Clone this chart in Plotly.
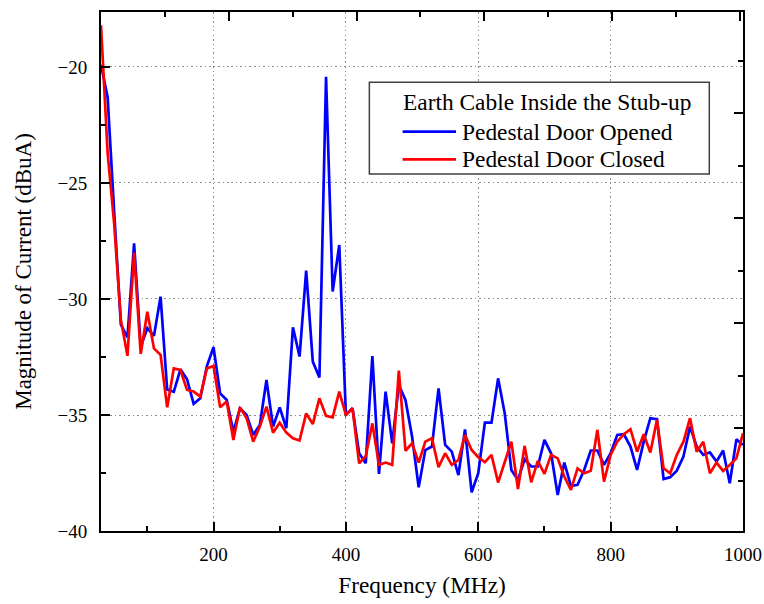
import plotly.graph_objects as go

# ---- data ----
freq_mhz = list(range(30, 1001, 10))

door_opened = [
    -19.9, -21.3, -26.3, -31.1, -31.65, -27.6, -32.05, -31.26, -31.59, -29.90,
    -33.90, -34.0, -33.03, -33.46, -34.52, -34.28, -32.89, -32.08, -34.07, -34.35,
    -35.72, -34.71, -35.0, -35.86, -35.43, -33.49, -35.5, -34.67, -35.57, -31.22,
    -32.48, -28.78, -32.7, -33.38, -20.42, -29.68, -27.67, -35.0, -34.71, -36.65,
    -37.08, -32.46, -37.54, -33.99, -36.22, -33.71, -34.35, -35.93, -38.12, -36.51,
    -36.36, -33.85, -36.29, -36.58, -37.59, -35.62, -38.33, -37.51, -35.33, -35.33,
    -33.42, -34.93, -37.37, -37.80, -36.91, -37.22, -37.22, -36.07, -36.65, -38.45,
    -37.05, -38.06, -38.01, -37.37, -36.53, -36.53, -37.15, -36.65, -35.86, -35.83,
    -36.36, -37.37, -36.15, -35.14, -35.18, -37.76, -37.68, -37.40, -36.79, -35.50,
    -36.36, -36.72, -36.61, -37.01, -36.53, -37.94, -36.05, -36.29,
]

door_closed = [
    -18.2, -23.7, -26.8, -30.9, -32.45, -28.0, -32.37, -30.55, -32.13, -32.41,
    -34.67, -32.99, -33.06, -33.92, -33.99, -34.21, -32.99, -32.89, -34.67, -34.42,
    -36.08, -34.67, -35.14, -36.15, -35.50, -34.64, -35.76, -35.33, -35.76, -36.0,
    -36.1, -34.93, -35.39, -34.28, -35.04, -35.10, -33.99, -35.0, -34.71, -37.08,
    -36.77, -35.36, -37.15, -37.05, -37.15, -33.09, -36.54, -36.22, -37.05, -36.15,
    -36.0, -37.25, -36.65, -37.15, -36.94, -35.86, -36.51, -36.82, -37.03, -36.72,
    -37.91, -37.05, -36.15, -38.19, -36.33, -37.90, -36.98, -37.54, -36.72, -36.87,
    -37.65, -38.23, -37.30, -37.51, -37.40, -35.64, -37.87, -36.72, -36.15, -35.83,
    -35.61, -36.58, -35.83, -36.62, -35.21, -37.30, -37.51, -36.72, -36.15, -35.14,
    -36.58, -36.15, -37.51, -37.05, -37.41, -37.15, -36.87, -35.79,
]

x_tickvals = [200, 400, 600, 800, 1000]
y_tickvals = [-40, -35, -30, -25, -20]

legend_title = "Earth Cable Inside the Stub-up"
series_names = ["Pedestal Door Opened", "Pedestal Door Closed"]
series_colors = ["#0000FF", "#FF0000"]

FONT = "Liberation Serif"

fig = go.Figure()
fig.add_trace(go.Scatter(x=freq_mhz, y=door_opened, mode="lines", name=series_names[0],
                         line=dict(color=series_colors[0], width=2.7), showlegend=False))
fig.add_trace(go.Scatter(x=freq_mhz, y=door_closed, mode="lines", name=series_names[1],
                         line=dict(color=series_colors[1], width=2.7), showlegend=False))
# empty trace so that the top/right frame axes are drawn
fig.add_trace(go.Scatter(x=[], y=[], xaxis="x2", yaxis="y2", showlegend=False, hoverinfo="skip"))

grid = dict(showgrid=True, gridcolor="#8a8a8a", gridwidth=1, griddash="1.5px,3px")

fig.update_layout(
    width=764, height=604,
    margin=dict(l=101, r=21, t=12, b=73, autoexpand=False),
    paper_bgcolor="white", plot_bgcolor="white",
    font=dict(family=FONT, size=19, color="black"),
    xaxis=dict(
        range=[30, 1000], tickvals=x_tickvals, ticks="inside", ticklen=9, tickwidth=2,
        tickcolor="black", showline=True, linecolor="black", linewidth=2, mirror=False,
        zeroline=False, ticklabelstandoff=5,
        minor=dict(dtick=100, tick0=0, ticks="inside", ticklen=5, tickwidth=2, tickcolor="black",
                   showgrid=False),
        title=dict(text="Frequency (MHz)", font=dict(size=23.3), standoff=13),
        **grid,
    ),
    yaxis=dict(
        range=[-40, -17.63], tickvals=y_tickvals, ticks="inside", ticklen=9, tickwidth=2,
        tickcolor="black", showline=True, linecolor="black", linewidth=2, mirror=False,
        zeroline=False, ticklabelstandoff=8,
        minor=dict(dtick=2.5, tick0=0, ticks="inside", ticklen=5, tickwidth=2, tickcolor="black",
                   showgrid=False),
        title=dict(text="Magnitude of Current (dBuA)", font=dict(size=23), standoff=19),
        **grid,
    ),
    xaxis2=dict(
        overlaying="x", side="top", range=[0, 1005], dtick=200, tick0=0,
        ticks="inside", ticklen=9, tickwidth=2, tickcolor="black", showticklabels=False,
        showline=True, linecolor="black", linewidth=2, showgrid=False, zeroline=False,
        minor=dict(dtick=100, tick0=0, ticks="inside", ticklen=5, tickwidth=2, tickcolor="black"),
    ),
    yaxis2=dict(
        overlaying="y", side="right", range=[-4.905, 19.81], dtick=5, tick0=0,
        ticks="inside", ticklen=9, tickwidth=2, tickcolor="black", showticklabels=False,
        showline=True, linecolor="black", linewidth=2, showgrid=False, zeroline=False,
        minor=dict(dtick=2.5, tick0=0, ticks="inside", ticklen=5, tickwidth=2, tickcolor="black"),
    ),
)

# ---- hand-drawn legend box (paper coordinates) ----
fig.add_shape(type="rect", xref="paper", yref="paper", x0=0.418, x1=0.9475, y0=0.688, y1=0.8646,
              line=dict(color="#404040", width=1.5), fillcolor="white", layer="above")
fig.add_annotation(xref="paper", yref="paper", x=0.6945, y=0.8272, text=legend_title,
                   showarrow=False, xanchor="center", yanchor="middle",
                   font=dict(family=FONT, size=23.4, color="black"))
entry_y = [0.7694, 0.7162]
for name, color, yy in zip(series_names, series_colors, entry_y):
    fig.add_shape(type="line", xref="paper", yref="paper", x0=0.4698, x1=0.5530, y0=yy, y1=yy,
                  line=dict(color=color, width=2.7), layer="above")
    fig.add_annotation(xref="paper", yref="paper", x=0.5585, y=yy, text=name, showarrow=False,
                       xanchor="left", yanchor="middle",
                       font=dict(family=FONT, size=23.4, color="black"))

fig.write_html("out.html")
